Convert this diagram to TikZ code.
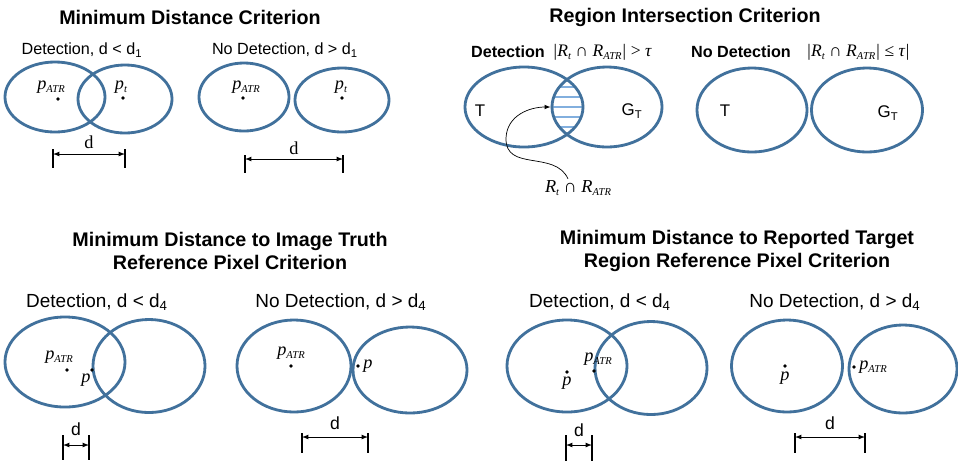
\documentclass[tikz,border=0pt]{standalone}
\usepackage{fontspec}
\setmainfont{Liberation Sans}
\newfontfamily\timesfont{Liberation Serif}
\usepackage{tikz}
\usetikzlibrary{positioning,shapes.geometric,arrows.meta}
\usepackage{xcolor}
\definecolor{ellblue}{RGB}{65,113,156}
\definecolor{hatchblue}{RGB}{130,175,222}
\newcommand{\lsub}[1]{\raisebox{-0.35ex}{\fontsize{7.5}{8}\selectfont #1}}

\begin{document}
\begin{tikzpicture}[x=0.025cm, y=-0.025cm,
  ell/.style={draw=ellblue, line width=2pt, ellipse, inner sep=0pt},
  pt/.style={circle, fill=black, inner sep=0pt, minimum size=2.6pt},
  ttl/.style={font=\fontsize{14}{16.4}\selectfont\bfseries, align=center},
  captxt/.style={font=\fontsize{11.5}{13}\selectfont},
  captxtb/.style={font=\fontsize{13.5}{15}\selectfont},
  hd/.style={font=\fontsize{11.5}{14}\selectfont\bfseries},
  lb/.style={font=\fontsize{13}{15}\selectfont\timesfont\itshape, inner sep=1pt},
  ml/.style={font=\fontsize{12.5}{14}\selectfont\timesfont\itshape, inner sep=1pt},
  sl/.style={font=\fontsize{12}{14}\selectfont, inner sep=1pt},
  dms/.style={font=\fontsize{13}{15}\selectfont\timesfont, inner sep=1pt},
  dm/.style={font=\fontsize{12.5}{15}\selectfont, inner sep=1pt},
  bar/.style={line width=1.3pt},
  dim/.style={latex-latex, line width=0.6pt},
  hatch/.style={draw=hatchblue, line width=0.8pt}
]
\path[fill=white] (0,0) rectangle (958,463);
\useasboundingbox (0,0) rectangle (958,463);

% ---- titres -------------------------------------------------------------
\node[ttl] (ttlA) at (190,17) {Minimum Distance Criterion};
\node[ttl] (ttlB) at (685,17) {Region Intersection Criterion};
\node[ttl] (ttlC) at (230,251) {Minimum Distance to Image Truth\\Reference Pixel Criterion};
\node[ttl] (ttlD) at (737,251) {Minimum Distance to Reported Target\\Region Reference Pixel Criterion};

% ---- distance minimale ----------------------------------------------------
\node[captxt] (capA1) at (82,50) {Detection, d < d\textsubscript{1}};
\node[captxt] (capA2) at (285,50) {No Detection, d > d\textsubscript{1}};
\node[ell, minimum width=2.5cm, minimum height=1.75cm] (atrA) at (55,97) {};
\node[ell, minimum width=2.35cm, minimum height=1.7cm] (tgtA) at (125,99) {};
\node[ell, minimum width=2.25cm, minimum height=1.7cm] (atrB) at (244,97) {};
\node[ell, minimum width=2.35cm, minimum height=1.6cm] (tgtB) at (342,100) {};
\node[pt] (patrA) at (58,99) {};
\node[lb] (patrAl) at (51,87) {p\lsub{ATR}};
\node[pt] (ptA) at (123,98) {};
\node[lb] (ptAl) at (121,87) {p\lsub{t}};
\node[pt] (patrB) at (243,98) {};
\node[lb] (patrBl) at (246,87) {p\lsub{ATR}};
\node[pt] (ptB) at (342,98) {};
\node[lb] (ptBl) at (341,87) {p\lsub{t}};

% ---- intersection de regions ----------------------------------------------
\node[hd] (detB) at (508,52) {Detection};
\node[ml] (mathB1) at (602,52) {|R\lsub{t} ∩ R\lsub{ATR}| {\upshape >} τ};
\node[hd] (nodetB) at (741,52) {No Detection};
\node[ml] (mathB2) at (858,52) {|R\lsub{t} ∩ R\lsub{ATR}| {\upshape ≤} τ|};
\begin{scope}
  \clip (524,107) ellipse [x radius=1.475cm, y radius=1cm];
  \clip (607,107) ellipse [x radius=1.375cm, y radius=1cm];
  \foreach \y in {87,97,...,127}
    \draw[hatch] (540,\y) -- (600,\y);
\end{scope}
\node[ell, minimum width=2.95cm, minimum height=2cm] (tA) at (524,107) {};
\node[ell, minimum width=2.75cm, minimum height=2cm] (gtA) at (607,107) {};
\node[ell, minimum width=2.75cm, minimum height=2.1cm] (tB) at (752,110) {};
\node[ell, minimum width=2.775cm, minimum height=2.1cm] (gtB) at (867,110) {};
\node[sl] (tAl) at (480,111) {T};
\node[sl] (gtAl) at (632,111) {G\textsubscript{T}};
\node[sl] (tBl) at (725,111) {T};
\node[sl] (gtBl) at (888,113) {G\textsubscript{T}};
\node[lb] (isect) at (578,188) {R\lsub{t} ∩ R\lsub{ATR}};
\draw[-latex, line width=0.5pt] ([xshift=-0.25cm]isect.north)
  .. controls (555,150) and (505,172) .. (506,138)
  .. controls (507,115) and (530,107) .. (gtA.west);

% ---- pixel de reference : verite image -----------------------------------
\node[captxtb] (capC1) at (97,302) {Detection, d < d\textsubscript{4}};
\node[captxtb] (capC2) at (341,302) {No Detection, d > d\textsubscript{4}};
\node[ell, minimum width=3cm, minimum height=2.25cm] (atrC) at (65,362) {};
\node[ell, minimum width=2.8cm, minimum height=2.325cm] (refC) at (149,366) {};
\node[ell, minimum width=2.85cm, minimum height=2.3cm] (atrD) at (294,366) {};
\node[ell, minimum width=2.85cm, minimum height=2.15cm] (refD) at (410,370) {};
\node[pt] (patrC) at (67,370) {};
\node[lb] (patrCl) at (59,357) {p\lsub{ATR}};
\node[pt] (pC) at (92,370) {};
\node[lb] (pCl) at (86,380) {p};
\node[pt] (patrD) at (291,366) {};
\node[lb] (patrDl) at (291,353) {p\lsub{ATR}};
\node[pt] (pD) at (358,366) {};
\node[lb] (pDl) at (368,366) {p};

% ---- pixel de reference : cible rapportee ----------------------------------
\node[captxtb] (capE1) at (600,302) {Detection, d < d\textsubscript{4}};
\node[captxtb] (capE2) at (835,302) {No Detection, d > d\textsubscript{4}};
\node[ell, minimum width=3cm, minimum height=2.3cm] (refE) at (567,366) {};
\node[ell, minimum width=2.8cm, minimum height=2.325cm] (atrE) at (651,368) {};
\node[ell, minimum width=2.775cm, minimum height=2.3cm] (refF) at (787,366) {};
\node[ell, minimum width=2.7cm, minimum height=2.2cm] (atrF) at (903,369) {};
\node[pt] (pE) at (567,372) {};
\node[lb] (pEl) at (567,383) {p};
\node[pt] (patrE) at (594,371) {};
\node[lb] (patrEl) at (598,359) {p\lsub{ATR}};
\node[pt] (pF) at (785,366) {};
\node[lb] (pFl) at (785,378) {p};
\node[pt] (patrF) at (854,367) {};
\node[lb] (patrFl) at (873,367) {p\lsub{ATR}};

% ---- cotes d -------------------------------------------------------------
\foreach \n/\xa/\xb/\y/\t/\b/\yd/\s in {
    dA/53/125/154/149/168/142/dms, dB/245/343/159/155/173/148/dms,
    dC/63/89/445/435/460/429/dm,   dD/302/368/437/433/453/423/dm,
    dE/566/592/445/435/461/430/dm, dF/795/865/437/433/453/423/dm}{
  \coordinate (\n l) at (\xa,\y);
  \coordinate (\n r) at (\xb,\y);
  \draw[bar] (\xa,\t) -- (\xa,\b);
  \draw[bar] (\xb,\t) -- (\xb,\b);
  \draw[dim] (\n l) -- (\n r);
  \node[\s] (\n t) at ({(\xa+\xb)/2},\yd) {d};
}
\end{tikzpicture}
\end{document}
